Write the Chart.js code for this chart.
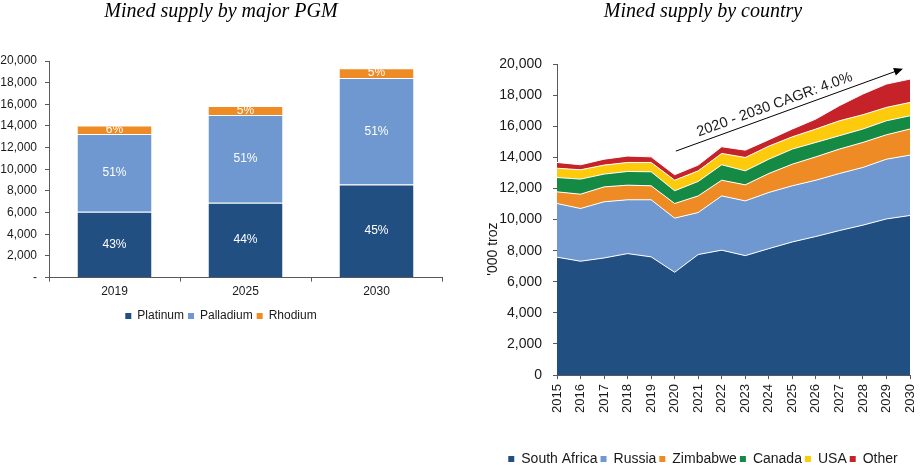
<!DOCTYPE html>
<html>
<head>
<meta charset="UTF-8">
<title>Mined supply</title>
<script src="https://cdn.jsdelivr.net/npm/chart.js"></script>
<style>
    html, body { margin: 0; padding: 0; background: #fff; }
    #wrap { display: flex; width: 920px; height: 468px; }
    canvas { display: block; }
</style>
</head>
<body>
<div id="wrap">
    <div style="width:460px;height:468px"><canvas id="pgm" width="460" height="332"></canvas></div>
    <div style="width:460px;height:468px"><canvas id="country" width="460" height="468"></canvas></div>
</div>
<script>
    // left: mined supply by major PGM ('000 oz)
    const pgmYears = ['2019', '2025', '2030'];
    const platinum = [6080, 6910, 8600];
    const palladium = [7190, 8110, 9830];
    const rhodium = [780, 830, 900];
    const platinumPct = ['43%', '44%', '45%'];
    const palladiumPct = ['51%', '51%', '51%'];
    const rhodiumPct = ['6%', '5%', '5%'];

    // right: mined supply by country ('000 troz)
    const years = ['2015', '2016', '2017', '2018', '2019', '2020', '2021', '2022',
        '2023', '2024', '2025', '2026', '2027', '2028', '2029', '2030'];
    const southAfrica = [7580, 7320, 7530, 7810, 7600, 6610, 7750, 8030, 7680, 8130, 8560, 8910, 9290, 9640, 10040, 10260];
    const russia = [3450, 3390, 3610, 3460, 3670, 3480, 2700, 3490, 3520, 3610, 3610, 3620, 3670, 3710, 3840, 3880];
    const zimbabwe = [750, 920, 960, 940, 900, 940, 1070, 1010, 1030, 1220, 1390, 1500, 1570, 1610, 1570, 1680];
    const canada = [920, 970, 820, 880, 900, 820, 930, 990, 900, 920, 970, 930, 860, 860, 900, 850];
    const usa = [600, 600, 580, 580, 600, 680, 680, 730, 860, 840, 790, 860, 960, 920, 860, 860];
    const other = [370, 320, 380, 410, 360, 350, 370, 430, 470, 410, 500, 640, 970, 1330, 1500, 1500];

    const cagrText = '2020 - 2030 CAGR: 4.0%';
    const cagrFrom = [5.05, 14400];   // [year index, value]
    const cagrTo = [14.7, 19700];
    const yTitleText = "'000 troz";
    const yTitleAt = 8100;

    const SANS = "'Liberation Sans', Arial, sans-serif";
    const SERIF = "'Liberation Serif', 'Times New Roman', serif";
    const AXIS = '#595959';
    const DARK_BLUE = '#214F81';
    const LIGHT_BLUE = '#6E98CF';
    const ORANGE = '#EE8B25';

    Chart.defaults.font.family = SANS;
    Chart.defaults.color = '#1a1a1a';

    const noStroke = ch => Chart.defaults.plugins.legend.labels.generateLabels(ch)
        .map(l => Object.assign(l, { lineWidth: 0 }));

    const titleFont = { family: SERIF, size: 20, style: 'italic', weight: 'normal' };

    const barLabels = {
        id: 'barLabels',
        afterDatasetsDraw(chart) {
            const ctx = chart.ctx;
            ctx.save();
            ctx.font = '12px ' + SANS;
            ctx.fillStyle = '#fff';
            ctx.textAlign = 'center';
            ctx.textBaseline = 'middle';
            chart.data.datasets.forEach((ds, i) => {
                chart.getDatasetMeta(i).data.forEach((bar, j) => {
                    const c = bar.getCenterPoint();
                    ctx.fillText(ds.pct[j], c.x, c.y);
                });
            });
            ctx.restore();
        }
    };

    new Chart(document.getElementById('pgm'), {
        type: 'bar',
        data: {
            labels: pgmYears,
            datasets: [
                { label: 'Platinum', data: platinum, pct: platinumPct, backgroundColor: DARK_BLUE },
                { label: 'Palladium', data: palladium, pct: palladiumPct, backgroundColor: LIGHT_BLUE },
                { label: 'Rhodium', data: rhodium, pct: rhodiumPct, backgroundColor: ORANGE }
            ]
        },
        options: {
            responsive: false,
            animation: false,
            layout: { padding: { left: 0, right: 18, top: 0, bottom: 0 } },
            datasets: {
                bar: {
                    categoryPercentage: 1,
                    barPercentage: 0.565,
                    borderColor: '#fff',
                    borderWidth: { top: 1 }
                }
            },
            plugins: {
                title: {
                    display: true, text: 'Mined supply by major PGM', font: titleFont,
                    color: '#000', padding: { top: 0, bottom: 37 }
                },
                legend: {
                    position: 'bottom',
                    labels: { boxWidth: 6, boxHeight: 6, padding: 4, font: { size: 12 }, generateLabels: noStroke }
                },
                tooltip: { enabled: false }
            },
            scales: {
                x: {
                    stacked: true,
                    grid: { drawOnChartArea: false, tickLength: 4, color: AXIS },
                    border: { color: AXIS },
                    ticks: { font: { size: 12 }, padding: 3 },
                    afterFit: s => { s.height += 4; }
                },
                y: {
                    stacked: true, min: 0, max: 20000,
                    grid: { drawOnChartArea: false, tickLength: 4, color: AXIS },
                    border: { color: AXIS },
                    ticks: {
                        stepSize: 2000, padding: 8, font: { size: 12 },
                        callback: v => v === 0 ? '-' : v.toLocaleString('en-US')
                    },
                    afterFit: s => { s.width = 49; }
                }
            }
        },
        plugins: [barLabels]
    });

    const cagrArrow = {
        id: 'cagrArrow',
        afterDatasetsDraw(chart) {
            const { ctx, scales: { x, y } } = chart;
            const x0 = x.getPixelForValue(cagrFrom[0]), y0 = y.getPixelForValue(cagrFrom[1]);
            const x1 = x.getPixelForValue(cagrTo[0]), y1 = y.getPixelForValue(cagrTo[1]);
            const a = Math.atan2(y1 - y0, x1 - x0);
            ctx.save();
            ctx.strokeStyle = '#000';
            ctx.fillStyle = '#000';
            ctx.lineWidth = 1;
            ctx.beginPath();
            ctx.moveTo(x0, y0);
            ctx.lineTo(x1 - Math.cos(a) * 6, y1 - Math.sin(a) * 6);
            ctx.stroke();
            // head
            ctx.translate(x1, y1);
            ctx.rotate(a);
            ctx.beginPath();
            ctx.moveTo(0, 0);
            ctx.lineTo(-9, -4);
            ctx.lineTo(-9, 4);
            ctx.closePath();
            ctx.fill();
            ctx.restore();

            const t = 0.45;
            const px = x0 + (x1 - x0) * t + Math.sin(a) * 10;
            const py = y0 + (y1 - y0) * t - Math.cos(a) * 10;
            ctx.save();
            ctx.translate(px, py);
            ctx.rotate(a);
            ctx.font = '14.5px ' + SANS;
            ctx.fillStyle = '#1a1a1a';
            ctx.textAlign = 'center';
            ctx.textBaseline = 'middle';
            ctx.fillText(cagrText, 0, 0);
            ctx.restore();
        }
    };

    const yTitle = {
        id: 'yTitle',
        afterDraw(chart) {
            const { ctx, scales: { y } } = chart;
            ctx.save();
            ctx.translate(y.left - 3, y.getPixelForValue(yTitleAt));
            ctx.rotate(-Math.PI / 2);
            ctx.font = '14px ' + SANS;
            ctx.fillStyle = '#1a1a1a';
            ctx.textAlign = 'center';
            ctx.textBaseline = 'middle';
            ctx.fillText(yTitleText, 0, 0);
            ctx.restore();
        }
    };

    const countrySeries = [
        ['South Africa', southAfrica, DARK_BLUE],
        ['Russia', russia, LIGHT_BLUE],
        ['Zimbabwe', zimbabwe, ORANGE],
        ['Canada', canada, '#158A44'],
        ['USA', usa, '#FDCB0B'],
        ['Other', other, '#C52229']
    ];

    new Chart(document.getElementById('country'), {
        type: 'line',
        data: {
            labels: years,
            datasets: countrySeries.map(([label, data, color], i) => ({
                label, data,
                backgroundColor: color,
                borderColor: '#fff',
                borderWidth: 1,
                pointRadius: 0,
                tension: 0,
                fill: i === 0 ? 'origin' : '-1'
            }))
        },
        options: {
            responsive: false,
            animation: false,
            layout: { padding: { left: 36, right: 10, top: 0, bottom: -8 } },
            plugins: {
                title: {
                    display: true, text: 'Mined supply by country', font: titleFont,
                    color: '#000', padding: { top: 0, bottom: 40 }
                },
                legend: {
                    position: 'bottom',
                    labels: { boxWidth: 6, boxHeight: 6, padding: 3, font: { size: 14 }, generateLabels: noStroke }
                },
                tooltip: { enabled: false }
            },
            scales: {
                x: {
                    grid: { drawOnChartArea: false, tickLength: 4, color: AXIS },
                    border: { color: AXIS },
                    ticks: { font: { size: 13 }, padding: 5, minRotation: 90, maxRotation: 90, autoSkip: false },
                    afterFit: s => { s.height += 31; s.paddingRight = 0; }
                },
                y: {
                    stacked: true, min: 0, max: 20000,
                    grid: { drawOnChartArea: false, tickLength: 4, color: AXIS },
                    border: { color: AXIS },
                    ticks: { stepSize: 2000, padding: 11, font: { size: 14 } },
                    afterFit: s => { s.width = 61; }
                }
            }
        },
        plugins: [cagrArrow, yTitle]
    });
</script>
</body>
</html>
